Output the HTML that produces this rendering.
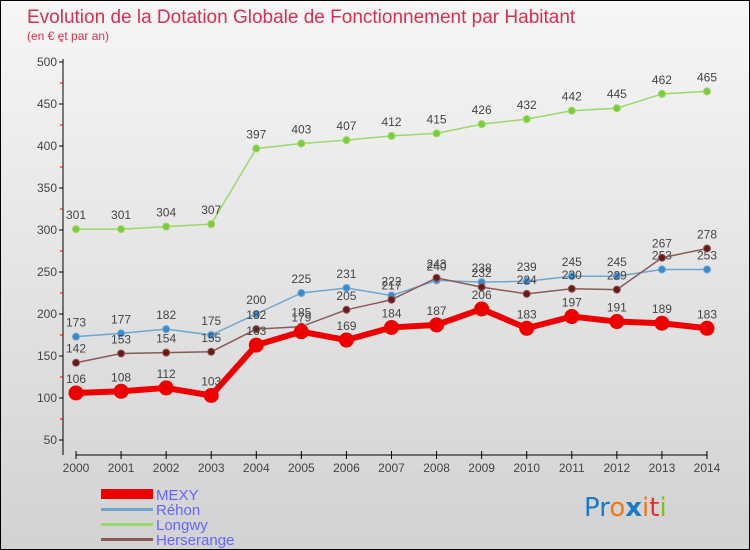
<!DOCTYPE html>
<html><head><meta charset="utf-8"><style>
body{margin:0}
#c{width:750px;height:550px;position:relative;font-family:"Liberation Sans",sans-serif;background:linear-gradient(#f6f6f6,#d2d2d2);box-sizing:border-box;border:1px solid #000;overflow:hidden}
</style></head><body>
<div id="c">
<svg width="750" height="550" style="position:absolute;left:0;top:0" id="s">
<text x="26" y="22" font-size="19" fill="#d83050">Evolution de la Dotation Globale de Fonctionnement par Habitant</text>
<text x="26" y="39" font-size="12" fill="#d83050">(en € et par an)</text>
<g id="axes"></g><g id="series"></g>
<g>
<rect x="100" y="488" width="52" height="10" fill="#e00"/>
<text x="155" y="499" font-size="15" fill="#6666ff">MEXY</text>
<rect x="100" y="507" width="52" height="3" fill="#6ea6cf"/>
<text x="155" y="514" font-size="15" fill="#6666ff">Réhon</text>
<rect x="100" y="522" width="52" height="3" fill="#9ad86a"/>
<text x="155" y="529" font-size="15" fill="#6666ff">Longwy</text>
<rect x="100" y="537" width="52" height="3" fill="#8a5a5a"/>
<text x="155" y="544" font-size="15" fill="#6666ff">Herserange</text>
</g>
<text x="583" y="515" font-size="26" font-family="'DejaVu Sans',sans-serif"><tspan fill="#1a7ac8">Pr</tspan><tspan fill="#f07818">o</tspan><tspan fill="#1a7ac8" font-weight="bold">x</tspan><tspan fill="#f07818">i</tspan><tspan fill="#e03030">t</tspan><tspan fill="#7ac020">i</tspan></text>
</svg>
</div>
<script>
const years=[2000,2001,2002,2003,2004,2005,2006,2007,2008,2009,2010,2011,2012,2013,2014];
const yTicks=[50,100,150,200,250,300,350,400,450,500];
const mexy=[106,108,112,103,163,179,169,184,187,206,183,197,191,189,183];
const rehon=[173,177,182,175,200,225,231,222,240,238,239,245,245,253,253];
const longwy=[301,301,304,307,397,403,407,412,415,426,432,442,445,462,465];
const herserange=[142,153,154,155,182,185,205,217,243,232,224,230,229,267,278];
const NS="http://www.w3.org/2000/svg";
const X=i=>75+i*(706-75)/(years.length-1);
const Y=v=>439-(v-50)*(439-61)/450;
function mk(t,a,p){const e=document.createElementNS(NS,t);for(const k in a)e.setAttribute(k,a[k]);p.appendChild(e);return e;}
const ax=document.getElementById('axes');
const yl=mk('line',{x1:62,y1:58,x2:62,y2:454,stroke:'#000'},ax);


yTicks.forEach(v=>{
 const t=mk('text',{x:56,y:Y(v)+4,'font-size':12,'text-anchor':'end',fill:'#444'},ax);t.textContent=v;
 
 
 mk('line',{x1:58,y1:Y(v),x2:62,y2:Y(v),stroke:'#000'},ax);
 mk('line',{x1:59,y1:Y(v+25),x2:62,y2:Y(v+25),stroke:'#e00'},ax);
});
const xl=mk('line',{x1:75,y1:454,x2:706,y2:454,stroke:'#000'},ax);


years.forEach((y,i)=>{
 mk('line',{x1:X(i),y1:450,x2:X(i),y2:458,stroke:'#000'},ax);
 const t=mk('text',{x:X(i),y:471,'font-size':12,'text-anchor':'middle',fill:'#444'},ax);t.textContent=y;
 
 
});
const sg=document.getElementById('series');
function series(d,col,w,r,name,dot){
 const g=mk('g',{},sg);
 
 
 const pl=mk('polyline',{points:d.map((v,i)=>X(i)+','+Y(v)).join(' '),fill:'none',stroke:col,'stroke-width':w,'stroke-linejoin':'round'},g);
 
 
 d.forEach((v,i)=>{
  const c=mk('circle',{cx:X(i),cy:Y(v),r:r,fill:dot,stroke:col,'stroke-width':1},g);
  
  
  const t=mk('text',{x:X(i),y:Y(v)-10,'font-size':12,'text-anchor':'middle',fill:'#444'},g);t.textContent=v;
  
  
 });
}
series(longwy,'#9ad86a',1.5,3.5,'longwy','#7ccc3a');
series(rehon,'#6ea6cf',1.5,3.5,'rehon','#3a8ad0');
series(herserange,'#8a5a5a',1.5,3.5,'herserange','#6a1818');
series(mexy,'#e00',6,7,'mexy','#e00');
</script>
</body></html>
